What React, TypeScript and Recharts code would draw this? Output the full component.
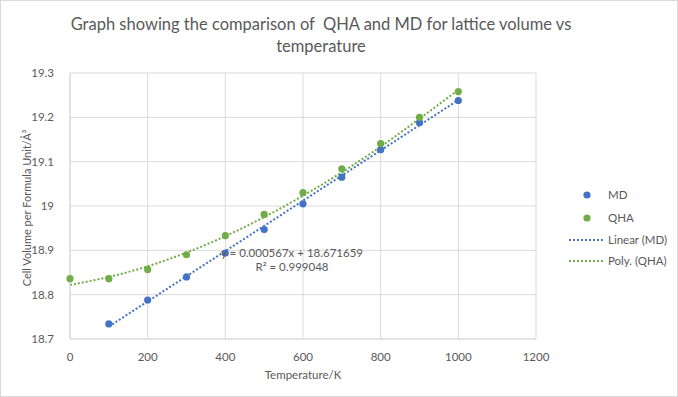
import { ComposedChart, CartesianGrid, Line, Scatter, XAxis, YAxis } from "recharts";

const MD_COLOR = "#4472C4";
const QHA_COLOR = "#70AD47";
const TEXT = "#595959";
const GRID = "#d9d9d9";
const FONT = "Lato, 'Open Sans', sans-serif";

// Temperatura (K)
const temperaturasMD = [100, 200, 300, 400, 500, 600, 700, 800, 900, 1000];
const temperaturasQHA = [0, 100, 200, 300, 400, 500, 600, 700, 800, 900, 1000];

// Volumen de celda por unidad fórmula (Å³)
const volumenMD = [18.734, 18.788, 18.840, 18.894, 18.947, 19.005, 19.065, 19.127, 19.188, 19.238];
const volumenQHA = [18.836, 18.836, 18.857, 18.890, 18.933, 18.981, 19.030, 19.084, 19.141, 19.200, 19.258];

const tendenciaLinealX = [100, 1000];
const tendenciaLinealY = [18.728, 19.239];

// Tendencia polinómica (QHA)
const tendenciaPolyX = [0, 100, 200, 300, 400, 500, 600, 700, 800, 900, 1000];
const tendenciaPolyY = [18.822, 18.840, 18.864, 18.895, 18.932, 18.975, 19.023, 19.076, 19.134, 19.197, 19.262];

const xTicks = [0, 200, 400, 600, 800, 1000, 1200];
const yTicks = [18.7, 18.8, 18.9, 19.0, 19.1, 19.2, 19.3];

const puntosMD = temperaturasMD.map((x, i) => ({ x, y: volumenMD[i] }));
const puntosQHA = temperaturasQHA.map((x, i) => ({ x, y: volumenQHA[i] }));
const lineaMD = tendenciaLinealX.map((x, i) => ({ x, y: tendenciaLinealY[i] }));
const lineaQHA = tendenciaPolyX.map((x, i) => ({ x, y: tendenciaPolyY[i] }));

const tickStyle = { fill: TEXT, fontSize: 11.5, fontFamily: FONT };

function Punto(color: string) {
  return (p: any) => <circle cx={p.cx} cy={p.cy} r={3.6} fill={color} />;
}

function Leyenda() {
  const item = { position: "absolute" as const, left: 607, fontSize: 11.5, color: TEXT, fontFamily: FONT, lineHeight: "14px" };
  return (
    <>
      <svg style={{ position: "absolute", left: 0, top: 0 }} width={678} height={397}>
        <circle cx={586} cy={194} r={3.6} fill={MD_COLOR} />
        <circle cx={586} cy={217} r={3.6} fill={QHA_COLOR} />
        <line x1={568} x2={602} y1={239} y2={239} stroke={MD_COLOR} strokeWidth={2} strokeDasharray="2 2" />
        <line x1={568} x2={602} y1={260} y2={260} stroke={QHA_COLOR} strokeWidth={2} strokeDasharray="2 2" />
      </svg>
      <div style={{ ...item, top: 187 }}>MD</div>
      <div style={{ ...item, top: 210 }}>QHA</div>
      <div style={{ ...item, top: 232 }}>Linear (MD)</div>
      <div style={{ ...item, top: 253 }}>Poly. (QHA)</div>
    </>
  );
}

export default function App() {
  return (
    <div
      style={{
        position: "absolute",
        left: 0,
        top: 0,
        width: 678,
        height: 397,
        background: "#fff",
        border: `1px solid ${GRID}`,
        boxSizing: "border-box",
        fontFamily: FONT,
      }}
    >
      <div style={{ position: "absolute", left: 0, top: 0, width: 678, height: 397 }}>
        <ComposedChart width={678} height={397} margin={{ top: 72, right: 143, bottom: 30, left: 20 }}>
          <CartesianGrid stroke={GRID} />
          <XAxis
            type="number"
            dataKey="x"
            domain={[0, 1200]}
            ticks={xTicks}
            tick={tickStyle}
            tickLine={false}
            axisLine={{ stroke: GRID }}
            tickMargin={8}
            height={29}
            allowDuplicatedCategory={false}
          />
          <YAxis
            type="number"
            dataKey="y"
            domain={[18.7, 19.3]}
            ticks={yTicks}
            tick={tickStyle}
            tickLine={false}
            axisLine={{ stroke: GRID }}
            tickMargin={10}
            width={49}
            tickFormatter={(v: number) => String(+v.toFixed(1))}
          />
          <Line
            data={lineaQHA}
            dataKey="y"
            type="monotone"
            stroke={QHA_COLOR}
            strokeWidth={2}
            strokeDasharray="2 2"
            dot={false}
            isAnimationActive={false}
          />
          <Line
            data={lineaMD}
            dataKey="y"
            type="linear"
            stroke={MD_COLOR}
            strokeWidth={2}
            strokeDasharray="2 2"
            dot={false}
            isAnimationActive={false}
          />
          <Scatter data={puntosMD} dataKey="y" shape={Punto(MD_COLOR)} isAnimationActive={false} />
          <Scatter data={puntosQHA} dataKey="y" shape={Punto(QHA_COLOR)} isAnimationActive={false} />
        </ComposedChart>
      </div>
      <div
        style={{
          position: "absolute",
          left: 30,
          width: 580,
          top: 12,
          textAlign: "center",
          fontSize: 16.5,
          lineHeight: "22px",
          color: TEXT,
        }}
      >
        Graph showing the comparison of&nbsp; QHA and MD for lattice volume vs
        <br />
        temperature
      </div>
      <div
        style={{
          position: "absolute",
          left: 26,
          top: 207,
          transform: "translate(-50%, -50%) rotate(-90deg)",
          whiteSpace: "nowrap",
          fontSize: 11,
          lineHeight: "12px",
          color: TEXT,
        }}
      >
        Cell Volume per Formula Unit/Å³
      </div>
      <div
        style={{
          position: "absolute",
          left: 302,
          top: 373,
          transform: "translate(-50%, -50%)",
          fontSize: 11.5,
          color: TEXT,
        }}
      >
        Temperature/K
      </div>
      <div
        style={{
          position: "absolute",
          left: 291,
          top: 245,
          transform: "translateX(-50%)",
          textAlign: "center",
          fontSize: 11.5,
          lineHeight: "14px",
          color: TEXT,
          whiteSpace: "nowrap",
        }}
      >
        y = 0.000567x + 18.671659
        <br />
        R² = 0.999048
      </div>
      <Leyenda />
    </div>
  );
}
